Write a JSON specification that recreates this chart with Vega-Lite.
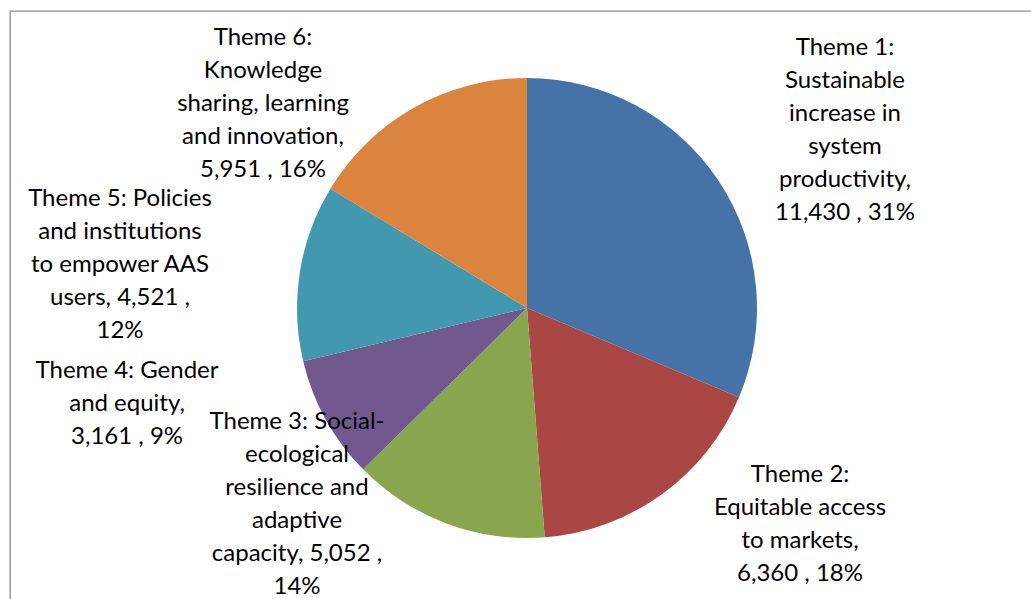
{
  "$schema": "https://vega.github.io/schema/vega-lite/v6.json",
  "width": 1022,
  "height": 589,
  "autosize": "none",
  "padding": {"left": 10, "top": 11, "right": 0, "bottom": 0},
  "background": "white",
  "view": {"stroke": "#8c8c8c", "strokeWidth": 1.3},
  "config": {
    "view": {"stroke": "#8c8c8c", "strokeWidth": 1.3},
    "style": {"cell": {"stroke": "#8c8c8c", "strokeWidth": 1.3}},
    "text": {"font": "Lato"}
  },
  "data": {
    "values": [
      {"idx": 1, "key": "T1", "theme": "Theme 1: Sustainable increase in system productivity", "value": 11430, "label": "Theme 1:\nSustainable\nincrease in\nsystem\nproductivity,\n11,430 , 31%"},
      {"idx": 2, "key": "T2", "theme": "Theme 2: Equitable access to markets", "value": 6360, "label": "Theme 2:\nEquitable access\nto markets,\n6,360 , 18%"},
      {"idx": 3, "key": "T3", "theme": "Theme 3: Social-ecological resilience and adaptive capacity", "value": 5052, "label": "Theme 3: Social-\necological\nresilience and\nadaptive\ncapacity,  5,052 ,\n14%"},
      {"idx": 4, "key": "T4", "theme": "Theme 4: Gender and equity", "value": 3161, "label": "Theme 4: Gender\nand equity,\n3,161 , 9%"},
      {"idx": 5, "key": "T5", "theme": "Theme 5: Policies and institutions to empower AAS users", "value": 4521, "label": "Theme 5: Policies\nand institutions\nto empower AAS\nusers,  4,521 ,\n12%"},
      {"idx": 6, "key": "T6", "theme": "Theme 6: Knowledge sharing, learning and innovation", "value": 5951, "label": "Theme 6:\nKnowledge\nsharing, learning\nand innovation,\n5,951 , 16%"}
    ]
  },
  "encoding": {
    "theta": {"field": "value", "type": "quantitative", "stack": true},
    "order": {"field": "idx", "type": "quantitative"},
    "detail": {"field": "theme", "type": "nominal"}
  },
  "layer": [
    {
      "mark": {"type": "arc", "outerRadius": 230, "xOffset": 6, "yOffset": 2.5},
      "encoding": {
        "color": {
          "field": "theme",
          "type": "nominal",
          "legend": null,
          "scale": {
            "domain": [
              "Theme 1: Sustainable increase in system productivity",
              "Theme 2: Equitable access to markets",
              "Theme 3: Social-ecological resilience and adaptive capacity",
              "Theme 4: Gender and equity",
              "Theme 5: Policies and institutions to empower AAS users",
              "Theme 6: Knowledge sharing, learning and innovation"
            ],
            "range": ["#4572A7", "#AA4643", "#89A54E", "#71588F", "#4198AF", "#DB843D"]
          }
        }
      }
    },
    {
      "mark": {"type": "text", "radius": 230, "xOffset": 6, "yOffset": 2.5, "dx": 126.4, "dy": -133.2, "align": "center", "baseline": "middle", "fontSize": 24, "lineHeight": 33, "lineBreak": "\n", "color": "black"},
      "encoding": {"text": {"condition": {"test": "datum.key == 'T1'", "field": "label"}, "value": ""}}
    },
    {
      "mark": {"type": "text", "radius": 230, "xOffset": 6, "yOffset": 2.5, "dx": 138.5, "dy": -19.6, "align": "center", "baseline": "middle", "fontSize": 24, "lineHeight": 33, "lineBreak": "\n", "color": "black"},
      "encoding": {"text": {"condition": {"test": "datum.key == 'T2'", "field": "label"}, "value": ""}}
    },
    {
      "mark": {"type": "text", "radius": 230, "xOffset": 6, "yOffset": 2.5, "dx": -149.4, "dy": -101.9, "align": "center", "baseline": "middle", "fontSize": 24, "lineHeight": 33, "lineBreak": "\n", "color": "black"},
      "encoding": {"text": {"condition": {"test": "datum.key == 'T3'", "field": "label"}, "value": ""}}
    },
    {
      "mark": {"type": "text", "radius": 230, "xOffset": 6, "yOffset": 2.5, "dx": -198.7, "dy": -48.3, "align": "center", "baseline": "middle", "fontSize": 24, "lineHeight": 33, "lineBreak": "\n", "color": "black"},
      "encoding": {"text": {"condition": {"test": "datum.key == 'T4'", "field": "label"}, "value": ""}}
    },
    {
      "mark": {"type": "text", "radius": 230, "xOffset": 6, "yOffset": 2.5, "dx": -179.8, "dy": -73.2, "align": "center", "baseline": "middle", "fontSize": 24, "lineHeight": 33, "lineBreak": "\n", "color": "black"},
      "encoding": {"text": {"condition": {"test": "datum.key == 'T5'", "field": "label"}, "value": ""}}
    },
    {
      "mark": {"type": "text", "radius": 230, "xOffset": 6, "yOffset": 2.5, "dx": -151.2, "dy": -69.6, "align": "center", "baseline": "middle", "fontSize": 24, "lineHeight": 33, "lineBreak": "\n", "color": "black"},
      "encoding": {"text": {"condition": {"test": "datum.key == 'T6'", "field": "label"}, "value": ""}}
    }
  ]
}
